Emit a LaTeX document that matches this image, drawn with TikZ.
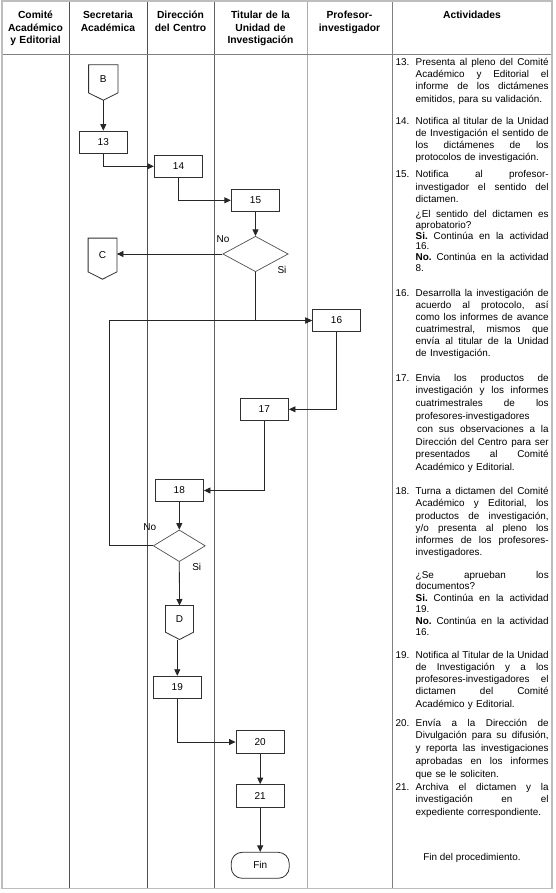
\documentclass[tikz,border=0pt]{standalone}
\usepackage{fontspec}
\setmainfont{Liberation Sans}
\usetikzlibrary{arrows.meta,calc,shapes.geometric}
\definecolor{outerc}{HTML}{BDBDBD}
\definecolor{darkc}{HTML}{505050}
\definecolor{midc}{HTML}{808080}
\definecolor{lightc}{HTML}{ABABAB}
\definecolor{boxc}{HTML}{303030}
\newlength\actw
\setlength\actw{133pt}
\newcommand\jl[1]{\leavevmode\hbox to \actw{\frenchspacing\spaceskip=0.278em plus 1fil\relax #1}\\}
\newcommand\offpage[1]{\draw[boxline] (#1.north west) -- (#1.north east) -- ($(#1.south east)$) -- ($(#1.south)+(0,7.3)$) -- ($(#1.south west)$) -- cycle;}
\begin{document}
\begin{tikzpicture}[x=1pt,y=-1pt,
  boxline/.style={draw=boxc,line width=0.8pt},
  box/.style={boxline,minimum width=48.5pt,minimum height=22.6pt,inner sep=0pt,font=\fontsize{10}{12}\selectfont},
  conn/.style={inner sep=0pt,minimum width=29pt,font=\fontsize{10}{12}\selectfont},
  dec/.style={diamond,draw=darkc,line width=0.7pt,inner sep=0pt,aspect=1.8},
  fin/.style={boxline,rounded corners=11pt,minimum width=58pt,minimum height=26pt,inner sep=0pt,font=\fontsize{10}{12}\selectfont},
  arr/.style={draw=black!85,line width=0.8pt,-{Triangle[length=6.5pt,width=6pt]}},
  lbl/.style={inner sep=0pt,font=\fontsize{10}{12}\selectfont},
  hdr/.style={anchor=base,align=center,inner sep=0pt,font=\fontsize{10.3}{12.5}\selectfont\bfseries},
  num/.style={anchor=base west,inner sep=0pt,font=\fontsize{9.9}{12}\selectfont},
  act/.style={anchor=base west,inner sep=0pt,text width=133pt,align=left,font={\fontsize{9.9}{#1}\selectfont}},
  col/.style={line width=0.8pt}]
\useasboundingbox (0,0) rectangle (556,893);
\fill[white] (0,0) rectangle (556,893);
% table
\draw[col,draw=darkc] (69,1) -- (69,888);
\draw[col,draw=darkc] (147,1) -- (147,888);
\draw[col,draw=darkc!90] (214,1) -- (214,888);
\draw[col,draw=lightc] (307,1) -- (307,888);
\draw[col,draw=midc] (392,1) -- (392,888);
\draw[col,draw=midc] (2,54.5) -- (552,54.5);
\draw[draw=outerc,line width=1.3pt] (2,1) rectangle (552,888.5);
% headers
\node[hdr,text width=66pt] (h1) at (35.5,18.7) {Comité\\Académico\\y Editorial};
\node[hdr,text width=76pt] (h2) at (108,18.7) {Secretaria\\Académica};
\node[hdr,text width=66pt] (h3) at (180.5,18.7) {Dirección\\del Centro};
\node[hdr,text width=90pt] (h4) at (260.5,18.7) {Titular de la\\Unidad de\\Investigación};
\node[hdr,text width=84pt] (h5) at (349.5,18.7) {Profesor-\\investigador};
\node[hdr,text width=158pt] (h6) at (472,18.7) {Actividades};
% flowchart nodes
\node[conn,minimum height=27.7pt,minimum width=29pt] (B) at (103.3,78.85) {B};
\offpage{B}
\node[box] (n13) at (103.3,142.3) {13};
\node[box] (n14) at (178.5,166.3) {14};
\node[box] (n15) at (255.5,200.3) {15};
\node[dec,minimum width=65.4pt,minimum height=35.4pt] (d1) at (255.5,254) {};
\node[conn,minimum height=33.4pt,minimum width=28.4pt] (C) at (102.5,255) {C};
\offpage{C}
\node[box] (n16) at (336.5,320.5) {16};
\node[box] (n17) at (264.3,409.3) {17};
\node[box] (n18) at (179.3,490.5) {18};
\node[dec,minimum width=52pt,minimum height=31.7pt] (d2) at (179.3,545.8) {};
\node[conn,minimum height=26.3pt,minimum width=27.7pt] (D) at (179.5,618.85) {D};
\offpage{D}
\node[box] (n19) at (177.3,687.5) {19};
\node[box] (n20) at (260.2,742) {20};
\node[box] (n21) at (260.2,795.8) {21};
\node[fin] (fin) at (260.2,865.3) {Fin};
\coordinate (loopx) at (109.3,0);
% labels
\node[lbl] (no1) at (223,239) {No};
\node[lbl] (si1) at (282,270) {Si};
\node[lbl] (no2) at (149.7,527.5) {No};
\node[lbl] (si2) at (196.7,566.5) {Si};
% connectors
\draw[arr] ($(B.south)+(0,7.3)$) -- (n13.north);
\draw[arr] (n13.south) |- (n14.west);
\draw[arr] (n14.south) |- (n15.west);
\draw[arr] (n15.south) -- (d1.north);
\draw[arr] (d1.west) -- (d1.west -| C.east);
\draw[arr] (d1.south) |- (n16.west);
\draw[arr] (d2.west) -- (d2.west -| loopx) -- (loopx |- n16.west) -- (n16.west);
\draw[arr] (n16.south) |- (n17.east);
\draw[arr] (n17.south) |- (n18.east);
\draw[arr] (n18.south) -- (d2.north);
\draw[arr] (d2.south) -- (D.north);
\draw[arr] (n19.north |- D.south) ++(0,7.3) -- (n19.north);
\draw[arr] (n19.south) |- (n20.west);
\draw[arr] (n20.south) -- (n21.north);
\draw[arr] (n21.south) -- (fin.north);
% activities
\node[num] (k13) at (395.5,65.3) {13.};
\node[act=12.3] (a13) at (415.5,65.3) {\jl{Presenta al pleno del Comité}\jl{Académico y Editorial el}\jl{informe de los dictámenes}emitidos, para su validación.};
\node[num] (k14) at (395.5,124.5) {14.};
\node[act=12.1] (a14) at (415.5,124.5) {\jl{Notifica al titular de la Unidad}\jl{de Investigación el sentido de}\jl{los dictámenes de los}protocolos de investigación.};
\node[num] (k15) at (395.5,178) {15.};
\node[act=12.5] (a15) at (415.5,178) {\jl{Notifica al profesor-}\jl{investigador el sentido del}dictamen.};
\node[act=10.8] (b15) at (415.5,217.5) {\jl{¿El sentido del dictamen es}aprobatorio?\\\jl{\textbf{Si.} Continúa en la actividad}16.\\\jl{\textbf{No.} Continúa en la actividad}8.};
\node[num] (k16) at (395.5,296) {16.};
\node[act=12.1] (a16) at (415.5,296) {\jl{Desarrolla la investigación de}\jl{acuerdo al protocolo, así}\jl{como los informes de avance}\jl{cuatrimestral, mismos que}\jl{envía al titular de la Unidad}de Investigación.};
\node[num] (k17) at (395.5,381) {17.};
\node[act=12.8] (a17) at (415.5,381) {\jl{Envia los productos de}\jl{investigación y los informes}\jl{cuatrimestrales de los}profesores-investigadores\\\jl{\hspace*{1.5pt}con sus observaciones a la}\jl{Dirección del Centro para ser}\jl{presentados al Comité}Académico y Editorial.};
\node[num] (k18) at (395.5,494.7) {18.};
\node[act=12.2] (a18) at (415.5,494.7) {\jl{Turna a dictamen del Comité}\jl{Académico y Editorial, los}\jl{productos de investigación,}\jl{y/o presenta al pleno los}\jl{informes de los profesores-}investigadores.};
\node[act=11.5] (b18) at (415.5,578) {\jl{¿Se aprueban los}documentos?\\\jl{\textbf{Si.} Continúa en la actividad}19.\\\jl{\textbf{No.} Continúa en la actividad}16.};
\node[num] (k19) at (395.5,658) {19.};
\node[act=12.3] (a19) at (415.5,658) {\jl{Notifica al Titular de la Unidad}\jl{de Investigación y a los}\jl{profesores-investigadores el}\jl{dictamen del Comité}Académico y Editorial.};
\node[num] (k20) at (395.5,726) {20.};
\node[act=12.75] (a20) at (415.5,726) {\jl{Envía a la Dirección de}\jl{Divulgación para su difusión,}\jl{y reporta las investigaciones}\jl{aprobadas en los informes}que se le soliciten.};
\node[num] (k21) at (395.5,790) {21.};
\node[act=12.8] (a21) at (415.5,790) {\jl{Archiva el dictamen y la}\jl{investigación en el}expediente correspondiente.};
\node[num,anchor=base] (endp) at (472,860) {Fin del procedimiento.};
\end{tikzpicture}
\end{document}
